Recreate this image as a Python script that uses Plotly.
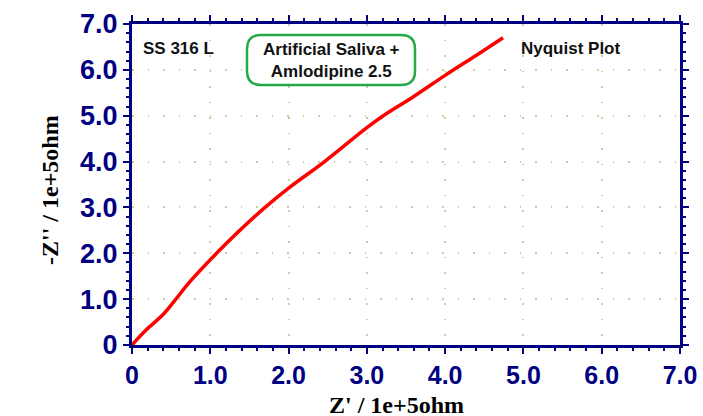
import plotly.graph_objects as go

# Nyquist data (units of 1e+5 ohm)
z_real = [0.0, 0.17, 0.40, 0.56, 0.74, 1.08, 1.34, 1.70, 2.00, 2.46, 3.00, 3.21, 3.60, 4.00, 4.40, 4.74]
z_imag = [0.0, 0.31, 0.67, 1.00, 1.38, 2.00, 2.44, 3.00, 3.42, 4.00, 4.74, 5.00, 5.42, 5.88, 6.32, 6.70]

tick_vals = [0, 1, 2, 3, 4, 5, 6, 7]
tick_text = ["0", "1.0", "2.0", "3.0", "4.0", "5.0", "6.0", "7.0"]

navy = "#000080"
grid = "#c8d0a0"

fig = go.Figure()
fig.add_trace(go.Scatter(x=z_real, y=z_imag, mode="lines",
                         line=dict(color="#ff0000", width=3.5, shape="spline", smoothing=1.0),
                         hoverinfo="skip"))

axis_common = dict(
    range=[0, 7], tickvals=tick_vals, ticktext=tick_text,
    showline=True, linecolor=navy, linewidth=3, mirror="allticks",
    ticks="outside", ticklen=6, tickwidth=2, tickcolor=navy,
    minor=dict(dtick=0.2, ticks="outside", ticklen=3, tickwidth=2, tickcolor=navy, showgrid=False),
    showgrid=True, gridcolor=grid, griddash="1.5px,14px", gridwidth=1.5,
    zeroline=False, fixedrange=True, automargin=False,
)

fig.update_xaxes(**axis_common,
                 tickfont=dict(family="Arial, Liberation Sans", size=25, color=navy, weight="bold"))
fig.update_yaxes(**axis_common,
                 tickfont=dict(family="Arial, Liberation Sans", size=27, color=navy, weight="bold"))

# rounded box around label (paper coords from pixel positions)
PL, PR, PT, PB = 132, 680, 24, 345
def fx(px):
    return (px - PL) / (PR - PL)
def fy(py):
    return (PB - py) / (PB - PT)

x0, x1, y0, y1, r = 247, 415, 35, 85, 14
path = (f"M {fx(x0 + r)},{fy(y0)} L {fx(x1 - r)},{fy(y0)} "
        f"Q {fx(x1)},{fy(y0)} {fx(x1)},{fy(y0 + r)} "
        f"L {fx(x1)},{fy(y1 - r)} "
        f"Q {fx(x1)},{fy(y1)} {fx(x1 - r)},{fy(y1)} "
        f"L {fx(x0 + r)},{fy(y1)} "
        f"Q {fx(x0)},{fy(y1)} {fx(x0)},{fy(y1 - r)} "
        f"L {fx(x0)},{fy(y0 + r)} "
        f"Q {fx(x0)},{fy(y0)} {fx(x0 + r)},{fy(y0)} Z")
fig.add_shape(type="path", xref="paper", yref="paper", path=path,
              line=dict(color="#22aa44", width=2.5), fillcolor="white", layer="above")

lab_font = dict(family="Arial, Liberation Sans", size=17, color="#111111", weight="bold")
fig.add_annotation(xref="paper", yref="paper", x=fx(141), y=fy(48),
                   text="SS 316 L", showarrow=False, xanchor="left", yanchor="middle", font=lab_font)
fig.add_annotation(xref="paper", yref="paper", x=fx(331), y=fy(60),
                   text="Artificial Saliva +<br>Amlodipine 2.5", showarrow=False,
                   xanchor="center", yanchor="middle", font=lab_font, align="center")
fig.add_annotation(xref="paper", yref="paper", x=fx(519), y=fy(48),
                   text="Nyquist Plot", showarrow=False, xanchor="left", yanchor="middle", font=lab_font)

title_font = dict(family="Times New Roman, Liberation Serif", size=24, color="#000000", weight="bold")
fig.add_annotation(xref="paper", yref="paper", x=fx(396), y=fy(405),
                   text="Z' / 1e+5ohm", showarrow=False, xanchor="center", yanchor="middle",
                   font=title_font)
fig.add_annotation(xref="paper", yref="paper", x=fx(50), y=fy(190),
                   text="-Z'' / 1e+5ohm", showarrow=False, xanchor="center", yanchor="middle",
                   textangle=-90, font=title_font)

fig.update_layout(
    width=703, height=416,
    margin=dict(l=PL, r=703 - PR, t=PT, b=416 - PB, autoexpand=False),
    plot_bgcolor="white", paper_bgcolor="white",
    showlegend=False,
)

fig.write_html("out.html", config={"displayModeBar": False},
               post_script="document.body.style.margin='0';document.body.style.overflow='hidden';")
